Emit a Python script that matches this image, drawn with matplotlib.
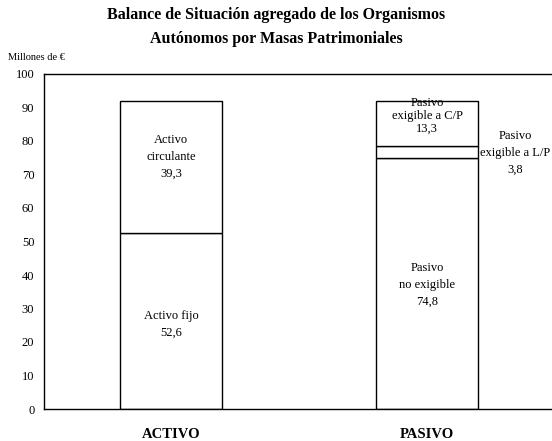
import matplotlib
matplotlib.use("Agg")
import matplotlib.pyplot as plt

categories = ["ACTIVO", "PASIVO"]
activo_fijo = 52.6
activo_circulante = 39.3
pasivo_no_exigible = 74.8
pasivo_lp = 3.8
pasivo_cp = 13.3


def fmt(v):
    return f"{v:.1f}".replace(".", ",")


plt.rcParams["font.family"] = ["Liberation Serif", "DejaVu Serif"]

fig = plt.figure(figsize=(5.52, 4.41), dpi=100)
ax = fig.add_axes([44 / 552, 32 / 441, 1 - 44 / 552, 335 / 441])

w = 0.4
edge = dict(color="white", edgecolor="black", linewidth=1.0, width=w)

# ACTIVO
ax.bar(0, activo_fijo, **edge)
ax.bar(0, activo_circulante, bottom=activo_fijo, **edge)

# PASIVO
ax.bar(1, pasivo_no_exigible, **edge)
ax.bar(1, pasivo_lp, bottom=pasivo_no_exigible, **edge)
ax.bar(1, pasivo_cp, bottom=pasivo_no_exigible + pasivo_lp, **edge)

fs = 9
ax.text(0, 25.2, "Activo fijo\n" + fmt(activo_fijo),
        ha="center", va="center", fontsize=fs, linespacing=1.55)
ax.text(0, 75.2, "Activo\ncirculante\n" + fmt(activo_circulante),
        ha="center", va="center", fontsize=fs, linespacing=1.55)
ax.text(1, 37.0, "Pasivo\nno exigible\n" + fmt(pasivo_no_exigible),
        ha="center", va="center", fontsize=fs, linespacing=1.55)
ax.text(1, 87.5, "Pasivo\nexigible a C/P\n" + fmt(pasivo_cp),
        ha="center", va="center", fontsize=fs, linespacing=1.12)
ax.text(1.345, 76.4, "Pasivo\nexigible a L/P\n" + fmt(pasivo_lp),
        ha="center", va="center", fontsize=fs, linespacing=1.55)

ax.set_xlim(-0.496, 1.488)
ax.set_ylim(0, 100)
ax.set_yticks(range(0, 101, 10))
ax.tick_params(axis="y", length=0, labelsize=9, pad=7)
ax.set_xticks([0, 1])
ax.set_xticklabels(categories, fontsize=10.5, fontweight="bold")
ax.tick_params(axis="x", length=0, pad=14)
ax.spines["right"].set_visible(False)
for s in ["top", "left", "bottom"]:
    ax.spines[s].set_linewidth(1.0)

fig.text(0.5, 1 - 7 / 441, "Balance de Situación agregado de los Organismos\nAutónomos por Masas Patrimoniales",
         ha="center", va="top", fontsize=11.5, fontweight="bold", linespacing=1.65)
fig.text(8 / 552, 1 - 57 / 441, "Millones de €", ha="left", va="center", fontsize=7.5)

fig.savefig("out.png", dpi=100)
